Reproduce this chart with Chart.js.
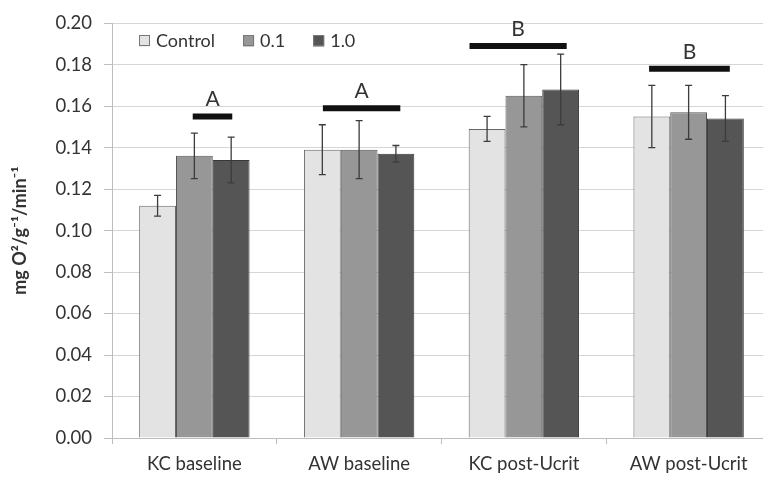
<!DOCTYPE html>
<html>
<head>
<meta charset="utf-8">
<script src="https://cdn.jsdelivr.net/npm/chart.js@4/dist/chart.umd.min.js"></script>
<style>
  html, body { margin: 0; padding: 0; background: #fff; overflow: hidden; }
  #wrap { width: 763px; height: 478px; overflow: hidden; }
</style>
</head>
<body>
<div id="wrap"><canvas id="myChart" width="771" height="478"></canvas></div>
<script>
// categories and series
var categories = ["KC baseline", "AW baseline", "KC post-Ucrit", "AW post-Ucrit"];
var seriesNames = ["Control", "0.1", "1.0"];

// mean values
var controlValues = [0.112, 0.139, 0.149, 0.155];
var lowValues = [0.136, 0.139, 0.165, 0.157];
var highValues = [0.134, 0.137, 0.168, 0.154];

// +/- error for each bar
var controlErrors = [0.005, 0.012, 0.006, 0.015];
var lowErrors = [0.011, 0.014, 0.015, 0.013];
var highErrors = [0.011, 0.004, 0.017, 0.011];

// significance groups: letter, level of the black bar, span in category units
var sigLetters = ["A", "A", "B", "B"];
var sigLevels = [0.155, 0.159, 0.189, 0.178];
var sigFrom = [-0.01, 0.78, 1.67, 2.76];
var sigTo = [0.23, 1.25, 2.26, 3.25];

// y axis ticks
var yMin = 0;
var yMax = 0.2;
var yStep = 0.02;

var seriesColors = ["#e3e3e3", "#979797", "#555555"];
var seriesBorders = ["#666666", "#555555", "#383838"];

Chart.defaults.font.family = "Lato, 'Open Sans', sans-serif";
Chart.defaults.color = "#333";

var errorBars = {
  id: "errorBars",
  afterDatasetsDraw: function (chart) {
    var ctx = chart.ctx;
    var y = chart.scales.y;
    ctx.save();
    ctx.strokeStyle = "#3c3c3c";
    ctx.lineWidth = 1.3;
    chart.data.datasets.forEach(function (ds, di) {
      var meta = chart.getDatasetMeta(di);
      meta.data.forEach(function (bar, i) {
        var v = ds.data[i];
        var e = ds.errors[i];
        var top = y.getPixelForValue(v + e);
        var bot = y.getPixelForValue(v - e);
        ctx.beginPath();
        ctx.moveTo(bar.x, top);
        ctx.lineTo(bar.x, bot);
        ctx.moveTo(bar.x - 3.5, top);
        ctx.lineTo(bar.x + 3.5, top);
        ctx.moveTo(bar.x - 3.5, bot);
        ctx.lineTo(bar.x + 3.5, bot);
        ctx.stroke();
      });
    });
    ctx.restore();
  }
};

var sigMarks = {
  id: "sigMarks",
  afterDatasetsDraw: function (chart) {
    var ctx = chart.ctx;
    var x = chart.scales.x;
    var y = chart.scales.y;
    ctx.save();
    sigLetters.forEach(function (letter, i) {
      var x0 = x.getPixelForValue(sigFrom[i]);
      var x1 = x.getPixelForValue(sigTo[i]);
      var py = y.getPixelForValue(sigLevels[i]);
      ctx.strokeStyle = "#111";
      ctx.lineWidth = 6;
      ctx.beginPath();
      ctx.moveTo(x0, py);
      ctx.lineTo(x1, py);
      ctx.stroke();
      ctx.fillStyle = "#333";
      ctx.font = "21px Lato, sans-serif";
      ctx.textAlign = "center";
      ctx.textBaseline = "middle";
      ctx.fillText(letter, (x0 + x1) / 2, py - 17);
    });
    ctx.restore();
  }
};

var insideLegend = {
  id: "insideLegend",
  afterDraw: function (chart) {
    var ctx = chart.ctx;
    var lx = 139;
    var ly = 41;
    ctx.save();
    ctx.font = "18px Lato, sans-serif";
    ctx.textBaseline = "middle";
    ctx.textAlign = "left";
    chart.data.datasets.forEach(function (ds) {
      ctx.fillStyle = ds.backgroundColor;
      ctx.fillRect(lx, ly - 5.5, 11, 11);
      ctx.strokeStyle = "#777";
      ctx.lineWidth = 1;
      ctx.strokeRect(lx + 0.5, ly - 5.5, 10, 10);
      ctx.fillStyle = "#333";
      ctx.fillText(ds.label, lx + 17, ly);
      lx += 17 + ctx.measureText(ds.label).width + 28;
    });
    ctx.restore();
  }
};

var valueSets = [controlValues, lowValues, highValues];
var errorSets = [controlErrors, lowErrors, highErrors];

var ctx = document.getElementById("myChart").getContext("2d");
var myChart = new Chart(ctx, {
  type: "bar",
  data: {
    labels: categories,
    datasets: seriesNames.map(function (name, i) {
      return {
        label: name,
        data: valueSets[i],
        errors: errorSets[i],
        backgroundColor: seriesColors[i],
        borderColor: seriesBorders[i],
        borderWidth: 1,
        categoryPercentage: 0.67,
        barPercentage: 1.0
      };
    })
  },
  options: {
    responsive: false,
    animation: false,
    layout: { padding: { top: 18, left: 0, right: 0, bottom: 0 } },
    plugins: {
      legend: { display: false },
      tooltip: { enabled: false }
    },
    scales: {
      x: {
        grid: {
          display: true,
          drawOnChartArea: false,
          drawTicks: true,
          tickLength: 6,
          tickColor: "#bdbdbd"
        },
        border: { color: "#bdbdbd" },
        ticks: { font: { size: 18.5 }, color: "#333", padding: 9 },
        afterFit: function (scale) { scale.height = 40; }
      },
      y: {
        min: yMin,
        max: yMax,
        grid: { color: "#d6d6d6", tickLength: 8, tickColor: "#bdbdbd" },
        border: { color: "#bdbdbd" },
        ticks: {
          stepSize: yStep,
          font: { size: 18.5 },
          color: "#333",
          padding: 12,
          callback: function (v) { return v.toFixed(2); }
        },
        title: {
          display: true,
          text: "mg O²/g⁻¹/min⁻¹",
          font: { size: 18, weight: "bold" },
          color: "#333",
          padding: { top: 9, bottom: 0 }
        },
        afterFit: function (scale) { scale.width = 112; }
      }
    }
  },
  plugins: [errorBars, sigMarks, insideLegend]
});
</script>
</body>
</html>
